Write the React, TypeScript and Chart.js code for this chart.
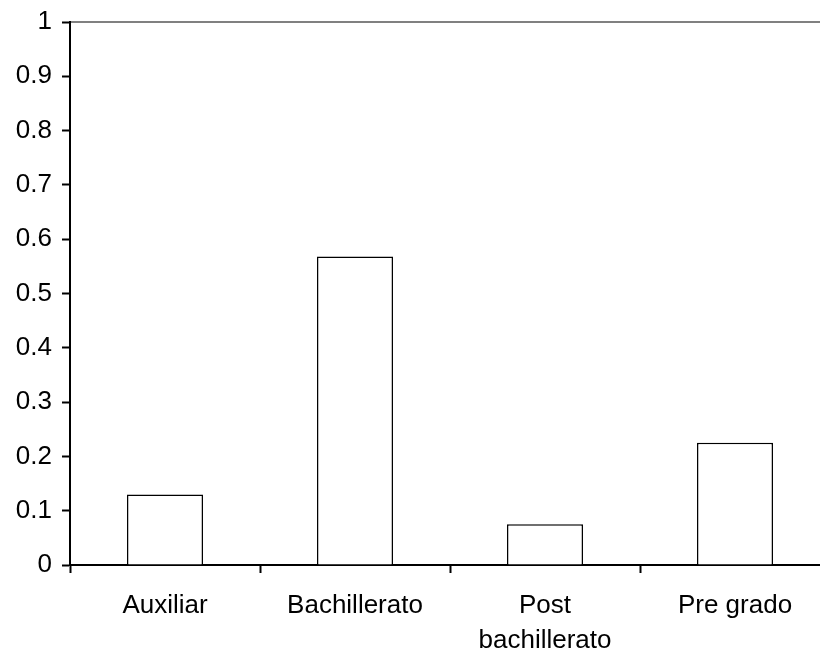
import React, { useEffect, useRef } from "react";
import { Chart, registerables } from "chart.js";

Chart.register(...registerables);

const categories: (string | string[])[] = ["Auxiliar", "Bachillerato", ["Post", "bachillerato"], "Pre grado"];
const values: number[] = [0.13, 0.568, 0.075, 0.225];
const yMin = 0;
const yMax = 1;
const yStep = 0.1;

const FONT = "'Liberation Sans', Arial, sans-serif";

export default function App() {
  const ref = useRef<HTMLCanvasElement | null>(null);
  useEffect(() => {
    if (!ref.current) return;
    const chart = new Chart(ref.current, {
      type: "bar",
      data: {
        labels: categories,
        datasets: [
          {
            data: values,
            backgroundColor: "#ffffff",
            borderColor: "#000000",
            borderWidth: 1.5,
            barPercentage: 0.4,
            categoryPercentage: 1,
          },
        ],
      },
      options: {
        animation: false,
        responsive: false,
        maintainAspectRatio: false,
        layout: { padding: { left: 0, right: 10, top: 22, bottom: 0 } },
        plugins: { legend: { display: false }, tooltip: { enabled: false } },
        scales: {
          x: {
            type: "category",
            position: "bottom",
            grid: {
              display: true,
              drawOnChartArea: false,
              drawTicks: true,
              tickLength: 8,
              tickColor: "#000000",
              tickWidth: 2,
              offset: true,
            },
            border: { display: true, color: "#000000", width: 2 },
            ticks: {
              color: "#000000",
              font: { family: FONT, size: 26, lineHeight: 1.32 },
              maxRotation: 0,
              minRotation: 0,
              autoSkip: false,
              padding: 16,
            },
            afterFit: (s: any) => {
              s.height = 85;
              s.paddingLeft = 0;
              s.paddingRight = 0;
            },
          },
          x2: {
            type: "category",
            position: "top",
            grid: { display: false, drawTicks: false },
            border: { display: true, color: "#808080", width: 2 },
            ticks: { display: false },
            afterFit: (s: any) => {
              s.height = 0;
              s.paddingLeft = 0;
              s.paddingRight = 0;
            },
          },
          y: {
            min: yMin,
            max: yMax,
            grid: {
              display: true,
              drawOnChartArea: false,
              drawTicks: true,
              tickLength: 8,
              tickColor: "#000000",
              tickWidth: 2,
            },
            border: { display: true, color: "#000000", width: 2 },
            ticks: {
              stepSize: yStep,
              color: "#000000",
              font: { family: FONT, size: 26 },
              padding: 10,
              callback: (v: any) => String(Number(Number(v).toFixed(1))),
            },
            afterFit: (s: any) => {
              s.width = 70;
              s.paddingTop = 0;
              s.paddingBottom = 0;
            },
          },
        },
      },
    });
    return () => chart.destroy();
  }, []);
  return (
    <div
      style={{
        position: "fixed",
        left: 0,
        top: 0,
        width: 820,
        height: 650,
        overflow: "hidden",
        background: "#ffffff",
      }}
    >
      <canvas ref={ref} width={840} height={650} style={{ display: "block" }} />
    </div>
  );
}
